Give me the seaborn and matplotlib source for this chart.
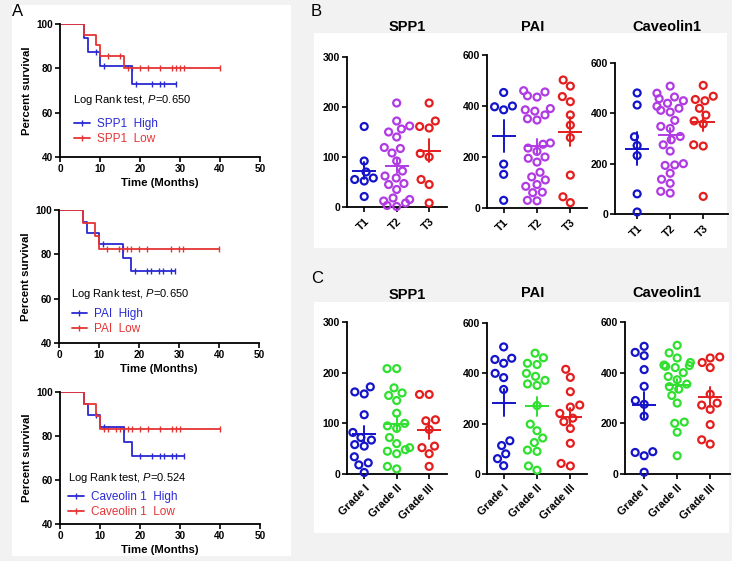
import numpy as np
import pandas as pd
import matplotlib
matplotlib.use("Agg")
import matplotlib.pyplot as plt
import seaborn as sns
from matplotlib.lines import Line2D
from matplotlib.patches import Rectangle

# ---------------- Kaplan-Meier data (A) ----------------
spp1_high_t = [0, 6, 7, 10, 18, 29]
spp1_high_s = [100, 93.8, 87.5, 81.0, 72.9, 72.9]
spp1_high_ct = [9, 11, 19, 23, 25, 26, 29]
spp1_high_cs = [87.5, 81.0, 72.9, 72.9, 72.9, 72.9, 72.9]
spp1_low_t = [0, 6, 9, 10, 16, 40]
spp1_low_s = [100, 95.2, 90.5, 85.7, 80.0, 80.0]
spp1_low_ct = [12, 15, 17, 18, 20, 22, 25, 28, 29, 30, 31, 40]
spp1_low_cs = [85.7, 85.7, 80, 80, 80, 80, 80, 80, 80, 80, 80, 80]

pai_high_t = [0, 6, 7, 10, 16, 18, 29]
pai_high_s = [100, 94.7, 89.5, 84.6, 78.5, 72.7, 72.7]
pai_high_ct = [11, 19, 22, 23, 25, 26, 28, 29]
pai_high_cs = [84.6, 72.7, 72.7, 72.7, 72.7, 72.7, 72.7, 72.7]
pai_low_t = [0, 6, 9, 10, 40]
pai_low_s = [100, 94.1, 88.2, 82.4, 82.4]
pai_low_ct = [12, 15, 16, 17, 18, 20, 22, 28, 30, 31, 40]
pai_low_cs = [82.4] * 11

cav_high_t = [0, 6, 7, 10, 16, 18, 31]
cav_high_s = [100, 94.7, 89.5, 84.2, 77.4, 71.1, 71.1]
cav_high_ct = [9, 11, 20, 23, 25, 26, 28, 29, 31]
cav_high_cs = [89.5, 84.2, 71.1, 71.1, 71.1, 71.1, 71.1, 71.1, 71.1]
cav_low_t = [0, 6, 9, 10, 40]
cav_low_s = [100, 94.4, 88.9, 83.3, 83.3]
cav_low_ct = [11, 12, 14, 15, 16, 17, 18, 20, 22, 25, 28, 29, 30, 40]
cav_low_cs = [83.3] * 14

km_names = ["SPP1", "PAI", "Caveolin 1"]
km_pvals = ["0.650", "0.650", "0.524"]

# ---------------- Dot plot data (B: T stage) ----------------
t_cats = ["T1", "T2", "T3"]
spp1_T1 = [161, 92, 70, 58, 55, 52, 21]
spp1_T2 = [208, 172, 162, 156, 150, 140, 119, 117, 108, 92, 72, 62, 58, 47, 45, 35, 18, 15, 12, 8, 3, 1]
spp1_T3 = [208, 172, 161, 158, 107, 100, 55, 45, 8]
pai_T1 = [453, 400, 397, 385, 172, 132, 30]
pai_T2 = [460, 455, 440, 435, 390, 385, 380, 365, 350, 345, 255, 250, 235, 222, 200, 195, 180, 140,
          122, 110, 92, 85, 62, 60, 30, 28]
pai_T3 = [502, 478, 437, 417, 365, 325, 276, 129, 44, 21]
cav_T1 = [481, 433, 307, 272, 232, 80, 8]
cav_T2 = [508, 480, 465, 458, 450, 440, 428, 420, 412, 405, 372, 348, 340, 308, 295, 275, 250, 200,
          195, 193, 162, 138, 122, 90, 83]
cav_T3 = [511, 468, 455, 450, 420, 393, 370, 358, 275, 270, 70]

# ---------------- Dot plot data (C: grade) ----------------
g_cats = ["Grade I", "Grade II", "Grade III"]
spp1_G1 = [172, 162, 158, 117, 82, 72, 67, 58, 55, 34, 22, 18, 3]
spp1_G2 = [208, 208, 170, 160, 155, 145, 120, 95, 90, 100, 72, 60, 52, 48, 45, 40, 15, 10]
spp1_G3 = [157, 157, 107, 105, 88, 55, 52, 40, 15]
pai_G1 = [505, 460, 455, 440, 400, 383, 336, 132, 113, 80, 61, 33]
pai_G2 = [480, 462, 440, 435, 400, 388, 372, 358, 352, 272, 198, 172, 143, 125, 95, 90, 32, 15]
pai_G3 = [416, 384, 327, 274, 266, 241, 222, 208, 181, 122, 42, 32]
cav_G1 = [504, 480, 467, 412, 346, 290, 275, 228, 88, 85, 72, 7]
cav_G2 = [508, 478, 458, 440, 430, 428, 425, 420, 400, 385, 372, 355, 345, 335, 310, 280, 205, 200, 165, 72]
cav_G3 = [462, 458, 440, 420, 315, 280, 272, 255, 195, 135, 118]

# ---------------- style ----------------
sns.set_theme(style="ticks", rc={
    "axes.edgecolor": "black", "xtick.color": "black", "ytick.color": "black",
    "text.color": "black", "axes.labelcolor": "black",
})
plt.rcParams["font.family"] = ["Liberation Sans", "DejaVu Sans"]
plt.rcParams["mathtext.fontset"] = "custom"
plt.rcParams["mathtext.rm"] = "Liberation Sans"
plt.rcParams["mathtext.it"] = "Liberation Sans:italic"

KM_BLUE = "#2a2ad2"
KM_RED = "#e53434"
D_BLUE = "#1414c8"
D_PURPLE = "#b13be3"
D_RED = "#e41e1e"
D_GREEN = "#2fe02f"

W, H = 732, 561
fig = plt.figure(figsize=(W / 100, H / 100), dpi=100, facecolor="#f2f2f2")


def px_axes(l, t, r, b):
    ax = fig.add_axes([l / W, 1 - b / H, (r - l) / W, (b - t) / H])
    ax.set_facecolor("none")
    return ax


def white_rect(l, t, r, b):
    fig.add_artist(Rectangle((l / W, 1 - b / H), (r - l) / W, (b - t) / H,
                             transform=fig.transFigure, facecolor="white",
                             edgecolor="none", zorder=-5))


white_rect(12, 5, 291, 556)
white_rect(314, 33, 727, 248)
white_rect(314, 302, 729, 533)

fig.text(12 / W, 1 - 12 / H, "A", fontsize=12, ha="left", va="center")
fig.text(311 / W, 1 - 12 / H, "B", fontsize=12, ha="left", va="center")
fig.text(311 / W, 1 - 278 / H, "C", fontsize=12, ha="left", va="center")


def style_axes(ax, ysize=7.3, xsize=7.3):
    sns.despine(ax=ax)
    for sp in ("left", "bottom"):
        ax.spines[sp].set_linewidth(1.3)
    ax.tick_params(direction="out", length=3.5, width=1.2, pad=1.5)
    for lab in ax.get_xticklabels():
        lab.set_fontweight("bold")
        lab.set_fontsize(xsize)
    for lab in ax.get_yticklabels():
        lab.set_fontweight("bold")
        lab.set_fontsize(ysize)


# ---------------- KM panels ----------------
km_axes_px = [(60, 24, 260, 157), (59, 210, 259, 343), (60, 392, 260, 524)]
km_data = [
    ((spp1_high_t, spp1_high_s, spp1_high_ct, spp1_high_cs), (spp1_low_t, spp1_low_s, spp1_low_ct, spp1_low_cs)),
    ((pai_high_t, pai_high_s, pai_high_ct, pai_high_cs), (pai_low_t, pai_low_s, pai_low_ct, pai_low_cs)),
    ((cav_high_t, cav_high_s, cav_high_ct, cav_high_cs), (cav_low_t, cav_low_s, cav_low_ct, cav_low_cs)),
]
txt_pos = [(3.3, 65.7), (3.1, 62.1), (2.1, 60.9)]
leg_pos = [(3.6, 51.5), (3.2, 49.6), (2.1, 48.8)]

for i in range(3):
    ax = px_axes(*km_axes_px[i])
    (hi, lo) = km_data[i]
    for (t, s, ct, cs), col in ((hi, KM_BLUE), (lo, KM_RED)):
        sns.lineplot(x=t, y=s, drawstyle="steps-post", color=col, lw=1.3,
                     estimator=None, sort=False, ax=ax)
        sns.scatterplot(x=ct, y=cs, marker="|", s=16, color=col, linewidth=1.0, ax=ax)
    ax.set_xlim(0, 50)
    ax.set_ylim(40, 100)
    ax.set_xticks([0, 10, 20, 30, 40, 50])
    ax.set_yticks([40, 60, 80, 100])
    ax.set_xlabel("Time (Months)", fontsize=8.2, fontweight="bold", labelpad=3)
    ax.set_ylabel("Percent survival", fontsize=8.2, fontweight="bold", labelpad=3)
    style_axes(ax, 7.2, 7.2)
    ax.text(txt_pos[i][0], txt_pos[i][1], "Log Rank test, $\\mathit{P}$=" + km_pvals[i],
            fontsize=8, ha="left", va="center")
    handles = [Line2D([], [], color=KM_BLUE, lw=1.3, marker="|", markersize=4.5, markeredgewidth=1.0),
               Line2D([], [], color=KM_RED, lw=1.3, marker="|", markersize=4.5, markeredgewidth=1.0)]
    ax.legend(handles, [km_names[i] + "  High", km_names[i] + "  Low"],
              loc="center left", bbox_to_anchor=leg_pos[i], bbox_transform=ax.transData,
              frameon=False, fontsize=8.5, labelcolor="linecolor", handlelength=1.3,
              handletextpad=0.6, labelspacing=0.3, borderpad=0, borderaxespad=0)


# ---------------- Dot panels ----------------
def dot_panel(box, xlim, groups, cats, colors, ymax, title, title_xy):
    ax = px_axes(*box)
    rows = [(c, v) for c, vals in zip(cats, groups) for v in vals]
    df = pd.DataFrame(rows, columns=["grp", "val"])
    sns.swarmplot(data=df, x="grp", y="val", hue="grp", order=cats, hue_order=cats,
                  palette=colors, size=5.0, linewidth=0, legend=False, ax=ax)
    for coll in ax.collections:
        fc = coll.get_facecolors()
        coll.set_edgecolors(fc)
        coll.set_facecolors("none")
        coll.set_linewidth(1.6)
        coll.set_clip_on(False)
    sns.pointplot(data=df, x="grp", y="val", hue="grp", order=cats, hue_order=cats,
                  palette=colors, errorbar="se", markers="_", markersize=17,
                  markeredgewidth=1.4, linestyle="none", err_kws={"linewidth": 1.4},
                  capsize=0, legend=False, ax=ax)
    ax.set_xlim(*xlim)
    ax.set_ylim(0, ymax)
    ax.set_yticks(np.arange(0, ymax + 1, ymax // 3))
    ax.set_xticks(range(len(cats)))
    ax.set_xticklabels(cats, rotation=45, ha="right", rotation_mode="anchor")
    ax.set_xlabel("")
    ax.set_ylabel("")
    style_axes(ax, 7.5, 8)
    ax.tick_params(axis="x", pad=3)
    fig.text(title_xy[0] / W, 1 - title_xy[1] / H, title, fontsize=10.5,
             fontweight="bold", ha="center", va="center")
    return ax


b_cols = [D_BLUE, D_PURPLE, D_RED]
c_cols = [D_BLUE, D_GREEN, D_RED]

dot_panel((347, 57, 447, 207), (-0.53, 2.55), [spp1_T1, spp1_T2, spp1_T3], t_cats, b_cols, 300, "SPP1", (407, 27))
dot_panel((487, 55, 587, 208), (-0.5, 2.5), [pai_T1, pai_T2, pai_T3], t_cats, b_cols, 600, "PAI", (533, 27))
dot_panel((615, 63, 728, 214), (-0.67, 2.75), [cav_T1, cav_T2, cav_T3], t_cats, b_cols, 600, "Caveolin1", (667, 27))

dot_panel((347, 322, 447, 474), (-0.53, 2.55), [spp1_G1, spp1_G2, spp1_G3], g_cats, c_cols, 300, "SPP1", (407, 295))
dot_panel((487, 323, 587, 474), (-0.5, 2.5), [pai_G1, pai_G2, pai_G3], g_cats, c_cols, 600, "PAI", (533, 293))
dot_panel((625, 322, 730, 474), (-0.58, 2.6), [cav_G1, cav_G2, cav_G3], g_cats, c_cols, 600, "Caveolin1", (667, 293))

fig.savefig("out.png", dpi=100, facecolor=fig.get_facecolor())
